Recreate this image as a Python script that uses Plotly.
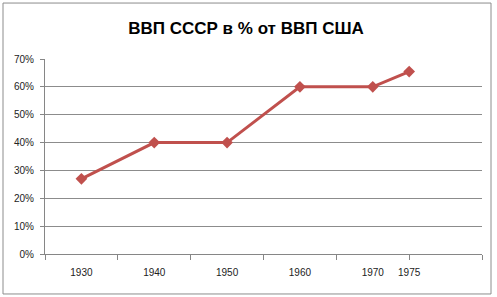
import plotly.graph_objects as go

years = [1930, 1940, 1950, 1960, 1970, 1975]
values = [0.27, 0.40, 0.40, 0.60, 0.60, 0.655]
tick_labels = ["1930", "1940", "1950", "1960", "1970", "1975"]
title_text = "ВВП СССР в % от ВВП США"

fig = go.Figure()
fig.add_trace(go.Scatter(
    x=years, y=values, mode="lines+markers",
    line=dict(color="#C0504D", width=3),
    marker=dict(symbol="diamond", size=9, color="#C0504D"),
    showlegend=False,
))
# invisible trace to drive the label axis
fig.add_trace(go.Scatter(x=years, y=values, xaxis="x2", mode="none",
                         showlegend=False, hoverinfo="skip"))

font_family = "Liberation Sans, Arial, sans-serif"
fig.update_layout(
    width=497, height=297,
    margin=dict(l=45, r=15, t=59, b=43),
    paper_bgcolor="white", plot_bgcolor="white",
    title=dict(text="<b>" + title_text + "</b>", x=0.495, xanchor="center",
               y=0.905, yanchor="middle",
               font=dict(family=font_family, size=17, color="black")),
    xaxis=dict(range=[1925, 1985], tickvals=list(range(1925, 1986, 10)),
               ticktext=[""] * 7, ticks="outside", ticklen=5,
               tickcolor="#868686", showline=True, linecolor="#868686",
               linewidth=1, showgrid=False, zeroline=False),
    xaxis2=dict(range=[1925, 1985], overlaying="x", side="bottom",
                tickvals=years, ticktext=tick_labels, ticks="",
                showline=False, showgrid=False, zeroline=False,
                tickfont=dict(family=font_family, size=10, color="#222222")),
    yaxis=dict(range=[0, 0.7], dtick=0.1, tickformat=".0%",
               showgrid=True, gridcolor="#8c8c8c", gridwidth=1,
               showline=True, linecolor="#868686", linewidth=1,
               ticks="outside", ticklen=4, tickcolor="#868686",
               zeroline=False, ticklabelstandoff=4,
               tickfont=dict(family=font_family, size=10, color="#222222")),
)
fig.update_xaxes(ticklabelstandoff=11, selector=dict(overlaying="x"))

fig.add_shape(type="rect", xref="paper", yref="paper",
              x0=-0.0961, x1=1.0206, y0=-0.205, y1=1.287,
              line=dict(color="#8c8c8c", width=1), fillcolor="rgba(0,0,0,0)",
              layer="below")

fig.write_html("out.html")
